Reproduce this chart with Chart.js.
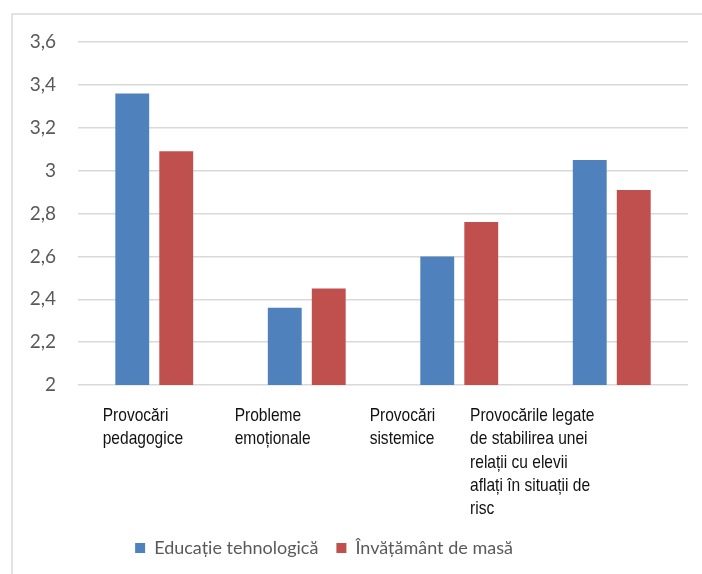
<!DOCTYPE html>
<html>
<head>
<meta charset="utf-8">
<script src="https://cdn.jsdelivr.net/npm/chart.js@4.4.1/dist/chart.umd.min.js"></script>
<style>
  html, body { margin: 0; padding: 0; background: #fff; }
  #wrap { width: 702px; height: 574px; }
</style>
</head>
<body>
<div id="wrap"><canvas id="chart"></canvas></div>
<script>
const categories = [
    ['Provocări', 'pedagogice'],
    ['Probleme', 'emoționale'],
    ['Provocări', 'sistemice'],
    ['Provocările legate', 'de stabilirea unei', 'relații cu elevii', 'aflați în situații de', 'risc']
];
const seriesNames = ['Educație tehnologică', 'Învățământ de masă'];
const educatieTehnologica = [3.36, 2.36, 2.60, 3.05];
const invatamantDeMasa = [3.09, 2.45, 2.76, 2.91];
const yTicks = [2, 2.2, 2.4, 2.6, 2.8, 3, 3.2, 3.4, 3.6];

// outer frame of the chart
const framePlugin = {
    id: 'frame',
    beforeDraw(chart) {
        const c = chart.ctx;
        c.save();
        c.strokeStyle = '#d9d9d9';
        c.lineWidth = 1.5;
        c.beginPath();
        c.moveTo(12, chart.height);
        c.lineTo(12, 14);
        c.lineTo(chart.width, 14);
        c.stroke();
        c.restore();
    },
    afterLayout(chart) {
        // legend sits a bit left of centre in the original
        chart.legend.left -= 20;
        chart.legend.right -= 20;
    }
};

// left-aligned wrapped category labels, narrow face
const catLabelPlugin = {
    id: 'catLabels',
    afterDraw(chart) {
        const c = chart.ctx;
        const area = chart.chartArea;
        const xs = chart.scales.x;
        const squeeze = 0.84;
        c.save();
        c.font = '18.5px "Liberation Sans", Arial, sans-serif';
        c.fillStyle = '#111';
        c.textAlign = 'left';
        c.textBaseline = 'middle';
        categories.forEach((lines, i) => {
            const w = Math.max(...lines.map(l => c.measureText(l).width)) * squeeze;
            const cx = area.left + area.width * (i + 0.5) / 4.7;
            lines.forEach((l, j) => {
                c.save();
                c.translate(cx - w / 2, xs.top + 31 + j * 23.3);
                c.scale(squeeze, 1);
                c.fillText(l, 0, 0);
                c.restore();
            });
        });
        c.restore();
    }
};

new Chart(document.getElementById('chart'), {
    type: 'bar',
    data: {
        labels: categories,
        datasets: [{
            label: seriesNames[0],
            data: educatieTehnologica,
            backgroundColor: '#4f81bd',
            categoryPercentage: 0.577,
            barPercentage: 0.77
        }, {
            label: seriesNames[1],
            data: invatamantDeMasa,
            backgroundColor: '#c0504d',
            categoryPercentage: 0.577,
            barPercentage: 0.77
        }]
    },
    options: {
        responsive: true,
        maintainAspectRatio: false,
        animation: false,
        layout: { padding: { top: 42, right: 14, left: 0, bottom: 7 } },
        plugins: {
            tooltip: { enabled: false },
            legend: {
                position: 'bottom',
                labels: {
                    boxWidth: 10,
                    boxHeight: 10,
                    padding: 18,
                    color: '#595959',
                    font: { family: 'Lato, sans-serif', size: 18 }
                }
            }
        },
        scales: {
            x: {
                grid: { display: false },
                border: { display: false },
                ticks: { display: false },
                afterFit(s) { s.height = 136; }
            },
            y: {
                min: 2,
                max: 3.6,
                afterBuildTicks(s) { s.ticks = yTicks.map(v => ({ value: v })); },
                grid: { color: '#d9d9d9', lineWidth: 1.5, drawTicks: false },
                border: { display: false },
                ticks: {
                    padding: 22,
                    color: '#595959',
                    font: { family: 'Lato, sans-serif', size: 19 },
                    callback: v => String(Number(v.toFixed(1))).replace('.', ',')
                },
                afterFit(s) { s.width = 78; }
            }
        }
    },
    plugins: [framePlugin, catLabelPlugin]
});
</script>
</body>
</html>
